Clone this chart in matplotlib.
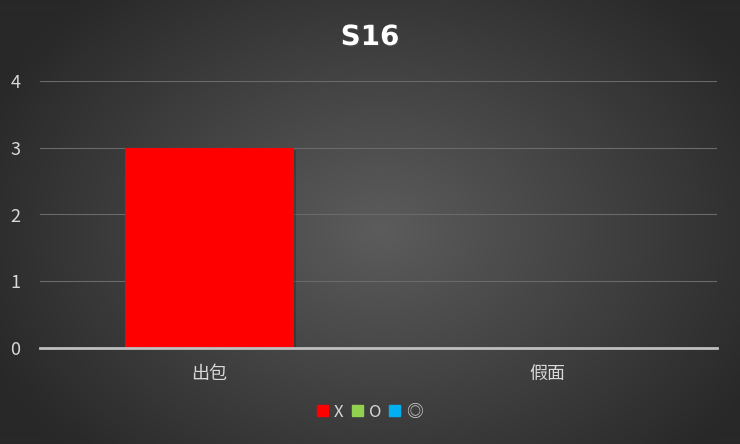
import numpy as np
import matplotlib
matplotlib.use('Agg')
import matplotlib.pyplot as plt
from matplotlib.patches import Rectangle
import matplotlib.patheffects as pe

plt.rcParams['font.family'] = ['Noto Sans CJK TC', 'DejaVu Sans']

categories = ['出包', '假面']
series_names = ['X', 'O', '◎']
series_values = [
    [3, 0],
    [0, 0],
    [0, 0],
]
series_colors = ['#ff0000', '#92d050', '#00b0f0']
y_ticks = [0, 1, 2, 3, 4]
title = 'S16'

fig = plt.figure(figsize=(7.4, 4.44), dpi=100)

# radial gradient background
bg = fig.add_axes([0, 0, 1, 1], zorder=-10)
yy, xx = np.mgrid[0:444, 0:740]
r = np.sqrt(((xx - 380) / 430.0) ** 2 + ((yy - 230) / 320.0) ** 2)
r = np.clip(r, 0, 1)
shade = 0x5c / 255 * (1 - r) + 0x28 / 255 * r
bg.imshow(np.dstack([shade, shade, shade]), aspect='auto', extent=[0, 1, 0, 1])
bg.axis('off')

ax = fig.add_axes([40 / 740, 1 - 348 / 444, 677 / 740, (348 - 81) / 444])
ax.patch.set_alpha(0)

x = np.arange(len(categories))
bottom = np.zeros(len(categories))
shadow = [pe.SimplePatchShadow(offset=(1.5, -1.5), shadow_rgbFace='black', alpha=0.2), pe.Normal()]
for name, vals, col in zip(series_names, series_values, series_colors):
    vals = np.array(vals, dtype=float)
    bars = ax.bar(x, vals, width=0.5, bottom=bottom, color=col, label=name, zorder=3,
                  edgecolor='none')
    for b in bars:
        b.set_path_effects(shadow)
    bottom += vals

ax.set_xlim(-0.5, len(categories) - 0.5)
ax.set_ylim(0, 4)
ax.set_yticks(y_ticks)
ax.set_xticks(x)
ax.set_xticklabels(categories)
ax.grid(axis='y', color='#6a6a6a', linewidth=0.8, zorder=0)
ax.tick_params(axis='both', length=0, colors='#d9d9d9', labelsize=13)
ax.tick_params(axis='x', pad=12, labelsize=13)
ax.tick_params(axis='y', pad=14)
for sp in ['top', 'right', 'left']:
    ax.spines[sp].set_visible(False)
ax.spines['bottom'].set_color('#bfbfbf')
ax.spines['bottom'].set_linewidth(2)
ax.spines['bottom'].set_zorder(4)

fig.text(0.5, 1 - 37 / 444, title, ha='center', va='center', fontsize=20,
         fontweight='bold', color='white', family='DejaVu Sans',
         path_effects=[pe.withSimplePatchShadow(offset=(1, -1), alpha=0.5)])

handles = [Rectangle((0, 0), 1, 1, color=c) for c in series_colors]
leg = fig.legend(handles, series_names, loc='center', bbox_to_anchor=(0.5, 1 - 412 / 444),
                 ncol=3, frameon=False, fontsize=12, handlelength=0.65, handleheight=0.65,
                 handletextpad=0.35, columnspacing=0.5)
for t in leg.get_texts():
    t.set_color('#d9d9d9')

fig.savefig('out.png', dpi=100)
